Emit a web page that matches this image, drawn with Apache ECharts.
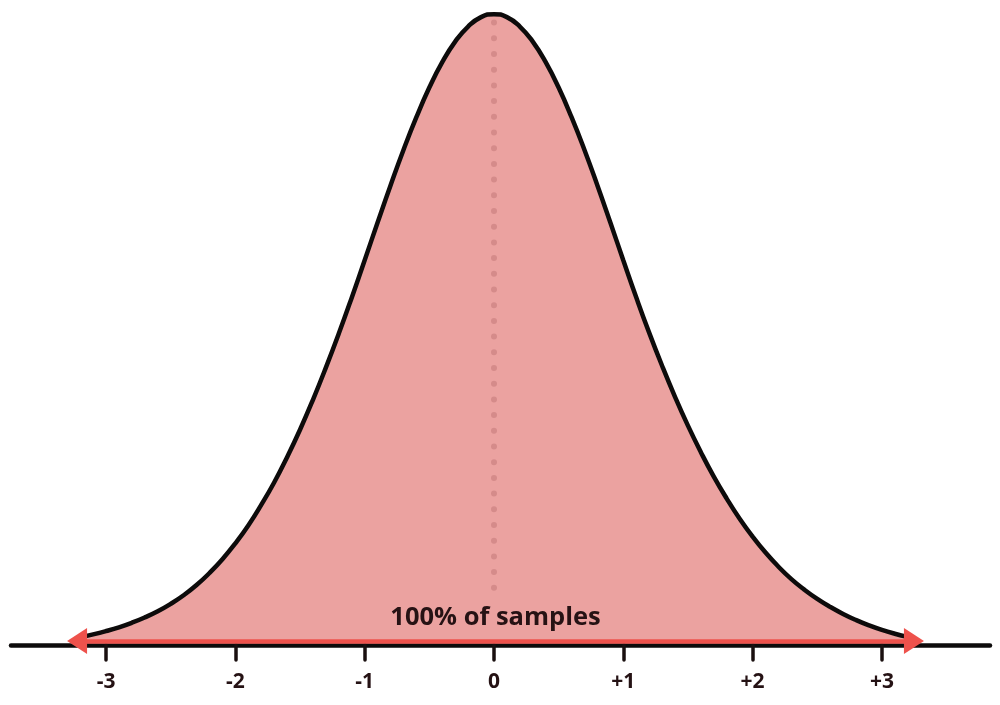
<!DOCTYPE html>
<html>
<head>
<meta charset="utf-8">
<script src="https://cdn.jsdelivr.net/npm/echarts@6/dist/echarts.min.js"></script>
<style>html,body{margin:0;padding:0;background:#fff}#c{width:1000px;height:705px}</style>
</head>
<body>
<div id="c"></div>
<script>
// Curve samples (x in standard deviations, y = density height)
const curveX = [-3.2,-3.1,-3.0,-2.9,-2.8,-2.7,-2.6,-2.5,-2.4,-2.3,-2.2,-2.1,-2.0,-1.9,-1.8,-1.7,-1.6,-1.5,-1.4,-1.3,-1.2,-1.1,-1.0,-0.9,-0.8,-0.7,-0.6,-0.5,-0.4,-0.3,-0.2,-0.1,0.0,
  0.1,0.2,0.3,0.4,0.5,0.6,0.7,0.8,0.9,1.0,1.1,1.2,1.3,1.4,1.5,1.6,1.7,1.8,1.9,2.0,2.1,2.2,2.3,2.4,2.5,2.6,2.7,2.8,2.9,3.0,3.1,3.2];
const curveY = [0.0018,0.0036,0.0057,0.0081,0.0110,0.0144,0.0183,0.0230,0.0285,0.0350,0.0427,0.0515,0.0616,0.0730,0.0861,0.1004,0.1165,0.1340,0.1531,0.1736,0.1953,0.2182,0.2420,0.2661,0.2897,0.3123,0.3332,0.3521,0.3683,0.3814,0.3910,0.3970,0.3989,
  0.3970,0.3910,0.3814,0.3683,0.3521,0.3332,0.3123,0.2897,0.2661,0.2420,0.2184,0.1959,0.1748,0.1550,0.1366,0.1197,0.1041,0.0901,0.0773,0.0659,0.0557,0.0467,0.0388,0.0321,0.0262,0.0211,0.0166,0.0127,0.0093,0.0064,0.0040,0.0020];
const tickValues = [-3,-2,-1,0,1,2,3];
const arrowRange = [-3.224, 3.248];
const dotRange = [0.3935, 0.033];
const rangeLabel = '100% of samples';

const chart = echarts.init(document.getElementById('c'), null, {renderer:'canvas'});
const pts = curveX.map((x,i)=>[x, curveY[i]]);
chart.setOption({
  animation:false,
  backgroundColor:'#ffffff',
  grid:{left:11, right:10, top:12.4, bottom:60},
  xAxis:{
    type:'value', min:-3.735, max:3.836,
    splitLine:{show:false},
    axisLine:{show:true, onZero:false, lineStyle:{color:'#0d0b0b', width:4.5, cap:'round'}},
    axisTick:{show:true, customValues:tickValues, length:15, lineStyle:{color:'#1a1010', width:3.5, cap:'round'}},
    axisLabel:{show:true, customValues:tickValues, margin:27, fontSize:21, fontWeight:'bold',
      fontFamily:'"Open Sans", sans-serif', color:'#251214',
      formatter:v=> v>0 ? '+'+v : String(v)}
  },
  yAxis:{type:'value', min:-0.0032, max:0.4, show:false, splitLine:{show:false}},
  series:[
    {
      type:'line', data:pts, smooth:true, showSymbol:false, symbol:'none',
      lineStyle:{color:'#0d0b0b', width:4.5},
      areaStyle:{color:'#eba2a0', opacity:1, origin:0},
      z:2,
      markLine:{
        silent:true, animation:false, z:6,
        symbol:'none',
        data:[
          [
            {coord:[0, dotRange[0]], symbol:'none',
             lineStyle:{color:'#d58b8a', width:6, type:[0,15.7], cap:'round'},
             label:{show:false}},
            {coord:[0, dotRange[1]], symbol:'none'}
          ],
          [
            {coord:[arrowRange[0], -0.0006], symbol:'triangle', symbolSize:[26,20],
             itemStyle:{color:'#ee524c'},
             lineStyle:{color:'#ee524c', width:4.5, type:'solid'},
             label:{show:true, position:'middle', formatter:rangeLabel, fontSize:25.5, fontWeight:'bold',
               fontFamily:'"Open Sans", sans-serif', color:'#261214', distance:10}},
            {coord:[arrowRange[1], -0.0006], symbol:'triangle', symbolSize:[26,20],
             itemStyle:{color:'#ee524c'}}
          ]
        ]
      }
    }
  ]
});
</script>
</body>
</html>
